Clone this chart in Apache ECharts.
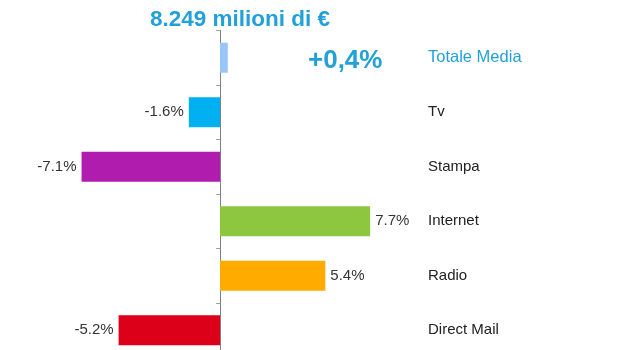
<!DOCTYPE html>
<html>
<head>
<meta charset="utf-8">
<script src="https://cdn.jsdelivr.net/npm/echarts@6/dist/echarts.min.js"></script>
<style>
  html, body { margin: 0; padding: 0; background: #fff; }
  #chart { width: 633px; height: 350px; }
</style>
</head>
<body>
<div id="chart"></div>
<script>
// Media categories, top to bottom
const categories = ['Totale Media', 'Tv', 'Stampa', 'Internet', 'Radio', 'Direct Mail'];
// Year-on-year change, percent
const changes = [0.4, -1.6, -7.1, 7.7, 5.4, -5.2];
const barColors = ['#98c6f6', '#00b0f0', '#b01cae', '#8dc63f', '#ffab00', '#dc0019'];
const totalLabel = '8.249 milioni di €';

const FONT = '"Liberation Sans", Arial, sans-serif';
const BLUE = '#21a0d9';

const fmt = v => v.toFixed(1) + '%';
const fmtTotal = v => (v >= 0 ? '+' : '') + v.toFixed(1).replace('.', ',') + '%';

const barData = changes.map((v, i) => ({
  value: v,
  itemStyle: { color: barColors[i] },
  label: {
    show: i > 0,
    position: v < 0 ? 'left' : 'right',
    distance: 5,
    formatter: p => fmt(p.value)
  }
}));

const chart = echarts.init(document.getElementById('chart'), null, { renderer: 'canvas' });
chart.setOption({
  animation: false,
  backgroundColor: '#fff',
  graphic: [{
    type: 'text',
    left: 150,
    top: 8,
    style: {
      text: totalLabel,
      font: 'bold 22.5px ' + FONT,
      fill: BLUE
    }
  }, {
    type: 'text',
    left: 308,
    top: 48,
    style: {
      text: fmtTotal(changes[0]),
      font: 'bold 26px ' + FONT,
      fill: BLUE
    }
  }],
  // the last band runs a little past the bottom edge
  grid: {
    left: 25, right: 218, top: 30.5, bottom: -7.5,
    containLabel: false,
    outerBoundsMode: 'none'
  },
  xAxis: {
    type: 'value',
    min: -10,
    max: 10,
    show: false
  },
  yAxis: [{
    type: 'category',
    data: categories,
    inverse: true,
    axisLine: { show: true, onZero: true, lineStyle: { color: '#808080', width: 1 } },
    axisTick: { show: true, length: 4, lineStyle: { color: '#a0a0a0' } },
    axisLabel: { show: false },
    splitLine: { show: false }
  }, {
    type: 'category',
    data: categories,
    inverse: true,
    position: 'right',
    axisLine: { show: false, onZero: false },
    axisTick: { show: false },
    splitLine: { show: false },
    axisLabel: {
      margin: 13,
      fontFamily: FONT,
      fontSize: 15,
      color: '#222',
      formatter: (v, i) => i === 0 ? '{tot|' + v + '}' : v,
      rich: {
        tot: { fontFamily: FONT, fontSize: 16.5, color: BLUE }
      }
    }
  }],
  series: [{
    type: 'bar',
    yAxisIndex: 0,
    data: barData,
    barWidth: 30,
    label: {
      fontFamily: FONT,
      fontSize: 15,
      color: '#333'
    }
  }]
});
</script>
</body>
</html>
